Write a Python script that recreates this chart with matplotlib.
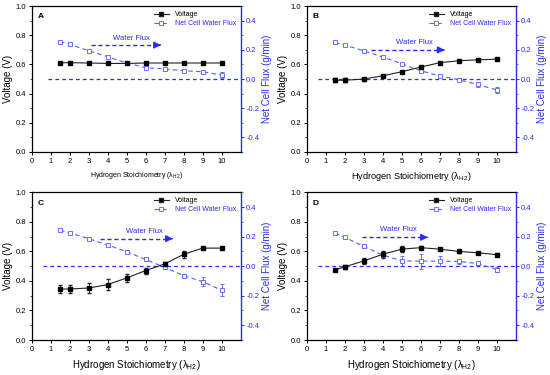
import numpy as np
import matplotlib
matplotlib.use("Agg")
import matplotlib.pyplot as plt
from matplotlib.ticker import MultipleLocator

plt.rcParams['font.family'] = ['Liberation Sans', 'DejaVu Sans']

stoich = [1.5, 2, 3, 4, 5, 6, 7, 8, 9, 10]

# panel A
volt_a = [0.612, 0.612, 0.61, 0.607, 0.607, 0.61, 0.61, 0.61, 0.61, 0.61]
volt_a_err = [0.005] * 10
flux_a = [0.256, 0.238, 0.194, 0.153, 0.110, 0.078, 0.069, 0.057, 0.050, 0.027]
flux_a_err = [0.008, 0.008, 0.008, 0.008, 0.008, 0.008, 0.008, 0.008, 0.010, 0.020]

# panel B
volt_b = [0.492, 0.492, 0.50, 0.522, 0.55, 0.582, 0.612, 0.625, 0.632, 0.636]
volt_b_err = [0.012, 0.012, 0.01, 0.008, 0.008, 0.008, 0.008, 0.006, 0.006, 0.006]
flux_b = [0.251, 0.233, 0.194, 0.151, 0.105, 0.057, 0.021, -0.005, -0.037, -0.075]
flux_b_err = [0.008, 0.008, 0.008, 0.008, 0.008, 0.008, 0.010, 0.010, 0.015, 0.020]

# panel C
volt_c = [0.345, 0.345, 0.352, 0.375, 0.42, 0.47, 0.515, 0.58, 0.622, 0.622]
volt_c_err = [0.025, 0.03, 0.035, 0.035, 0.025, 0.02, 0.01, 0.025, 0.008, 0.008]
flux_c = [0.243, 0.225, 0.186, 0.143, 0.098, 0.045, -0.009, -0.064, -0.105, -0.164]
flux_c_err = [0.008, 0.008, 0.008, 0.008, 0.008, 0.008, 0.008, 0.008, 0.03, 0.04]

# panel D
volt_d = [0.475, 0.495, 0.535, 0.58, 0.615, 0.625, 0.615, 0.60, 0.59, 0.578]
volt_d_err = [0.008, 0.012, 0.02, 0.025, 0.02, 0.01, 0.008, 0.008, 0.008, 0.008]
flux_d = [0.223, 0.195, 0.134, 0.075, 0.036, 0.034, 0.034, 0.032, 0.018, -0.023]
flux_d_err = [0.008, 0.008, 0.008, 0.015, 0.035, 0.05, 0.035, 0.015, 0.01, 0.015]

panels = [
    ("A", volt_a, volt_a_err, flux_a, flux_a_err),
    ("B", volt_b, volt_b_err, flux_b, flux_b_err),
    ("C", volt_c, volt_c_err, flux_c, flux_c_err),
    ("D", volt_d, volt_d_err, flux_d, flux_d_err),
]
# water flux arrow: text x, text y, arrow start, arrow end, arrow y
arrows = {
    "A": (4.28, 0.28, 3.1, 6.8, 0.233),
    "B": (4.72, 0.25, 3.4, 7.26, 0.20),
    "C": (4.95, 0.236, 3.58, 7.43, 0.186),
    "D": (3.85, 0.25, 2.92, 6.38, 0.195),
}
zero_start = {"A": 0.85, "B": 0.6, "C": 0.6, "D": 0.6}
xlabel_size = {"A": 5.0, "B": 6.6, "C": 7.0, "D": 7.0}

positions = {
    "A": [0.0576, 0.5947, 0.38, 0.389],
    "B": [0.5576, 0.5947, 0.38, 0.389],
    "C": [0.0576, 0.0933, 0.38, 0.394],
    "D": [0.5576, 0.0933, 0.38, 0.394],
}

blue = "#2b2bf5"
flux_blue = "#5060f0"

fig = plt.figure(figsize=(5.5, 3.75), dpi=100)

for name, volt, volt_err, flux, flux_err in panels:
    ax = fig.add_axes(positions[name])
    ax2 = ax.twinx()
    ax.set_zorder(ax2.get_zorder() + 1)
    ax.patch.set_visible(False)

    ax.errorbar(stoich, volt, yerr=volt_err, color="#222222", lw=0.8,
                marker="s", ms=3.2, mfc="black", mec="black",
                capsize=1.2, elinewidth=0.6, label="Voltage")
    ax2.errorbar(stoich, flux, yerr=flux_err, color=flux_blue, lw=0.8,
                 ls=(0, (4, 3)), marker="s", ms=3.2, mfc="white",
                 mec=flux_blue, mew=0.6, capsize=1.2, elinewidth=0.6)
    ax2.plot([zero_start[name], 11], [0, 0], color=blue, lw=0.9,
             ls=(0, (3, 2.5)))

    tx, ty, a0, a1, ay = arrows[name]
    ax2.text(tx, ty, "Water Flux", color=blue, fontsize=5.5, va="center")
    ax2.plot([a0, a1 - 0.15], [ay, ay], color=blue, lw=1.0, ls=(0, (3, 2)))
    ax2.annotate("", xy=(a1, ay), xytext=(a1 - 0.2, ay),
                 arrowprops=dict(arrowstyle="-|>,head_length=0.4,head_width=0.2",
                                 color=blue, lw=1.0))

    # legend handles
    h1 = ax.plot([], [], color="#222222", lw=0.8, marker="s", ms=3.2,
                 mfc="black", label="Voltage")[0]
    h2 = ax.plot([], [], color=flux_blue, lw=0.8, ls=(0, (4, 3)), marker="s",
                 ms=3.2, mfc="white", mec=flux_blue, mew=0.6,
                 label="Net Cell Water Flux")[0]
    leg = ax.legend([h1, h2], ["Voltage", "Net Cell Water Flux"],
                    loc="upper right", frameon=False, fontsize=5,
                    handlelength=2.2, borderaxespad=0.3, labelspacing=0.3)
    leg.get_texts()[1].set_color(blue)

    ax.text(0.03, 0.95, name, transform=ax.transAxes, fontsize=6,
            fontweight="bold", va="top")

    ax.set_xlim(0, 11)
    ax.set_ylim(0, 1.0)
    ax2.set_ylim(-0.5, 0.5)
    ax.set_xticks(range(11))
    ax.set_yticks(np.arange(0, 1.01, 0.2))
    ax.yaxis.set_minor_locator(MultipleLocator(0.1))
    ax2.set_yticks([-0.4, -0.2, 0.0, 0.2, 0.4])
    ax2.yaxis.set_minor_locator(MultipleLocator(0.1))
    ax.yaxis.set_major_formatter(matplotlib.ticker.FormatStrFormatter("%.1f"))
    ax2.set_yticklabels(["-0.4", "-0.2", "0.0", "0.2", "0.4"])

    ax.tick_params(labelsize=5.5, width=0.7, length=2.5, pad=1.5)
    ax.tick_params(which="minor", width=0.5, length=1.5)
    ax2.tick_params(labelsize=5.5, width=0.7, length=2.5, pad=1.5,
                    colors=blue)
    ax2.tick_params(which="minor", width=0.5, length=1.5, colors=blue)

    for s in ["left", "bottom", "top"]:
        ax.spines[s].set_linewidth(0.9)
    ax.spines["right"].set_visible(False)
    ax2.spines["right"].set_color(blue)
    ax2.spines["right"].set_linewidth(1.0)
    for s in ["left", "bottom", "top"]:
        ax2.spines[s].set_visible(False)

    ax.set_ylabel("Voltage (V)", fontsize=7, labelpad=2)
    ax2.set_ylabel("Net Cell Flux (g/min)", fontsize=7, color=blue, labelpad=2)
    ax.set_xlabel("Hydrogen Stoichiometry (λ$_{\\mathregular{H2}}$)",
                  fontsize=xlabel_size[name], labelpad=4)

fig.savefig("out.png", dpi=100)
